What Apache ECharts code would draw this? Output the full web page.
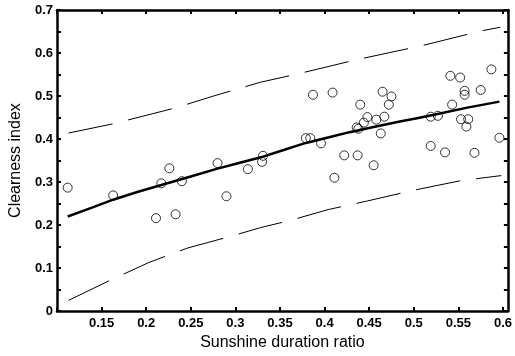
<!DOCTYPE html>
<html>
<head>
<meta charset="UTF-8">
<script src="https://cdn.jsdelivr.net/npm/echarts@6/dist/echarts.min.js"></script>
<style>
  html, body { margin: 0; padding: 0; background: #fff; }
  #chart { width: 515px; height: 356px; }
</style>
</head>
<body>
<div id="chart"></div>
<script>
// observed points: sunshine duration ratio / clearness index
const obsX = [0.112, 0.163, 0.211, 0.217, 0.226, 0.233, 0.240, 0.280, 0.290, 0.314,
              0.331, 0.330, 0.379, 0.384, 0.396, 0.387, 0.409, 0.411, 0.422, 0.437,
              0.436, 0.438, 0.440, 0.444, 0.448, 0.455, 0.458, 0.463, 0.465, 0.467,
              0.472, 0.475, 0.519, 0.527, 0.519, 0.535, 0.541, 0.543, 0.552, 0.553,
              0.557, 0.557, 0.559, 0.561, 0.568, 0.575, 0.587, 0.596];
const obsY = [0.287, 0.269, 0.216, 0.297, 0.332, 0.225, 0.302, 0.344, 0.267, 0.330,
              0.361, 0.347, 0.402, 0.402, 0.390, 0.503, 0.508, 0.310, 0.362, 0.362,
              0.427, 0.424, 0.480, 0.438, 0.451, 0.339, 0.445, 0.413, 0.510, 0.452,
              0.480, 0.499, 0.452, 0.454, 0.384, 0.369, 0.547, 0.480, 0.543, 0.446,
              0.512, 0.503, 0.429, 0.446, 0.368, 0.514, 0.562, 0.403];

// fitted curve
const fitX = [0.112, 0.14, 0.163, 0.19, 0.217, 0.25, 0.278, 0.305, 0.331, 0.355,
              0.379, 0.405, 0.428, 0.455, 0.483, 0.505, 0.528, 0.56, 0.596];
const fitY = [0.220, 0.241, 0.259, 0.277, 0.293, 0.313, 0.330, 0.345, 0.359, 0.375,
              0.391, 0.404, 0.416, 0.428, 0.440, 0.449, 0.459, 0.473, 0.487];

// upper and lower bounds (dashed)
const upX = [0.113, 0.162, 0.232, 0.277, 0.328, 0.369, 0.437, 0.507, 0.577, 0.597];
const upY = [0.414, 0.435, 0.472, 0.501, 0.532, 0.551, 0.585, 0.616, 0.652, 0.660];
const loX = [0.113, 0.159, 0.203, 0.247, 0.295, 0.328, 0.360, 0.404, 0.448, 0.500, 0.552, 0.598];
const loY = [0.025, 0.071, 0.113, 0.147, 0.174, 0.194, 0.210, 0.236, 0.256, 0.281, 0.303, 0.315];

const zip = (a, b) => a.map((v, i) => [v, b[i]]);

// show only tick labels on the 0.05 grid from 0.15 upward
const xLabel = v => {
    const k = Math.round(v * 100);
    if (Math.abs(v * 100 - k) > 1e-6 || k < 15) return '';
    return String(k / 100);
};
const yLabel = v => {
    const k = Math.round(v * 100);
    return k % 10 === 0 ? String(k / 100) : '';
};

const chart = echarts.init(document.getElementById('chart'));

const mkLine = () => ({ show: true, onZero: false, lineStyle: { color: '#000', width: 2.5 } });
const mkTick = () => ({ show: true, inside: true, length: 4, lineStyle: { color: '#000', width: 2 } });
const labelFont = () => ({ color: '#000', fontFamily: 'Arial, Liberation Sans', fontWeight: 'bold', fontSize: 13 });
const nameFont = { color: '#000', fontFamily: 'Arial, Liberation Sans', fontSize: 16 };

chart.setOption({
    animation: false,
    grid: { left: 55, right: 3, top: 10, bottom: 42 },
    xAxis: [{
        type: 'value',
        min: 0.1,
        max: 0.6055,
        interval: 0.05,
        name: 'Sunshine duration ratio',
        nameLocation: 'middle',
        nameGap: 22,
        nameTextStyle: nameFont,
        axisLine: mkLine(),
        axisTick: mkTick(),
        axisLabel: Object.assign({ show: true, margin: 6, formatter: xLabel, showMaxLabel: false }, labelFont()),
        splitLine: { show: false }
    }, {
        type: 'value',
        position: 'top',
        min: 0.1,
        max: 0.6055,
        interval: 0.05,
        axisLine: mkLine(),
        axisTick: mkTick(),
        axisLabel: { show: false },
        splitLine: { show: false }
    }],
    yAxis: [{
        type: 'value',
        min: 0,
        max: 0.7,
        interval: 0.05,
        name: 'Clearness index',
        nameLocation: 'middle',
        nameGap: 29,
        nameTextStyle: nameFont,
        axisLine: mkLine(),
        axisTick: mkTick(),
        axisLabel: Object.assign({ show: true, margin: 4, formatter: yLabel }, labelFont()),
        splitLine: { show: false }
    }, {
        type: 'value',
        position: 'right',
        min: 0,
        max: 0.7,
        interval: 0.05,
        axisLine: mkLine(),
        axisTick: mkTick(),
        axisLabel: { show: false },
        splitLine: { show: false }
    }],
    series: [{
        type: 'line',
        data: zip(upX, upY),
        showSymbol: false,
        lineStyle: { color: '#000', width: 1, type: [45, 16] }
    }, {
        type: 'line',
        data: zip(loX, loY),
        showSymbol: false,
        lineStyle: { color: '#000', width: 1, type: [45, 16] }
    }, {
        type: 'line',
        data: zip(fitX, fitY),
        showSymbol: false,
        lineStyle: { color: '#000', width: 2.5 }
    }, {
        type: 'scatter',
        data: zip(obsX, obsY),
        symbol: 'circle',
        symbolSize: 9,
        itemStyle: { color: 'rgba(0,0,0,0)', borderColor: '#000', borderWidth: 1 }
    }]
});
</script>
</body>
</html>
